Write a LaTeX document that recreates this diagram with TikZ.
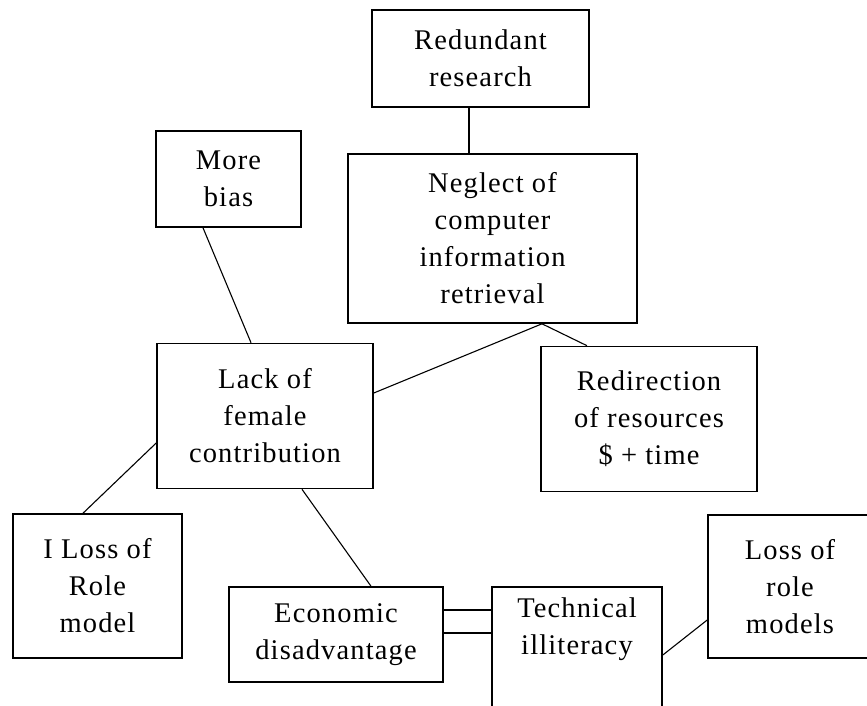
\documentclass[tikz,border=0pt]{standalone}
\usepackage{fontspec}
\setmainfont{Liberation Serif}[LetterSpace=4]
\begin{document}
\begin{tikzpicture}[x=1pt,y=-1pt,
  box/.style={draw, line width=1.6pt, inner sep=0pt, align=center,
    font=\fontsize{28.5}{37}\selectfont},
  link/.style={line width=1.1pt}]
\useasboundingbox (0,0) rectangle (867,705);
% nodes: centre and size from the reference (pixels)
\node[box, minimum width=217, minimum height=97] (red) at (480.5,58.5) {Redundant\\research};
\node[box, minimum width=289, minimum height=169] (neg) at (492.5,238.5) {Neglect of\\computer\\information\\retrieval};
\node[box, minimum width=145, minimum height=96] (bias) at (228.5,179) {More\\bias};
\node[box, minimum width=216, minimum height=145] (lack) at (265,416) {Lack of\\female\\contribution};
\node[box, minimum width=216, minimum height=145] (redir) at (649,419) {Redirection\\of resources\\\$ + time};
\node[box, minimum width=169, minimum height=144] (iloss) at (97.5,586) {I Loss of\\Role\\model};
\node[box, minimum width=214, minimum height=95] (econ) at (336,634.5) {Economic\\disadvantage};
\node[box, minimum width=170, minimum height=153] (tech) at (577,663.5) {Technical\\illiteracy\\~\\~};
\node[box, minimum width=164, minimum height=143] (loss) at (790,586.5) {Loss of\\role\\models};
% connectors
\coordinate (nj) at ([xshift=49.5pt]neg.south);
\draw[link] ([xshift=-11.5pt]red.south) -- ([xshift=-11.5pt]red.south |- neg.north);
\draw[link] (nj) -- ([yshift=23pt]lack.east);
\draw[link] (nj) -- ([xshift=-62pt]redir.north);
\draw[link] ([xshift=-25.5pt]bias.south) -- ([xshift=-14pt]lack.north);
\draw[link] ([yshift=-27pt]lack.west) -- ([xshift=-14.5pt]iloss.north);
\draw[link] ([xshift=37pt]lack.south) -- ([xshift=35pt]econ.north);
\draw[link] ([yshift=24.5pt]econ.east) -- ([yshift=24.5pt]econ.east -| tech.west);
\draw[link] ([yshift=1.5pt]econ.east) -- ([yshift=1.5pt]econ.east -| tech.west);
\draw[link] ([yshift=8.5pt]tech.east) -- ([yshift=-33.5pt]loss.west);
\end{tikzpicture}
\end{document}
